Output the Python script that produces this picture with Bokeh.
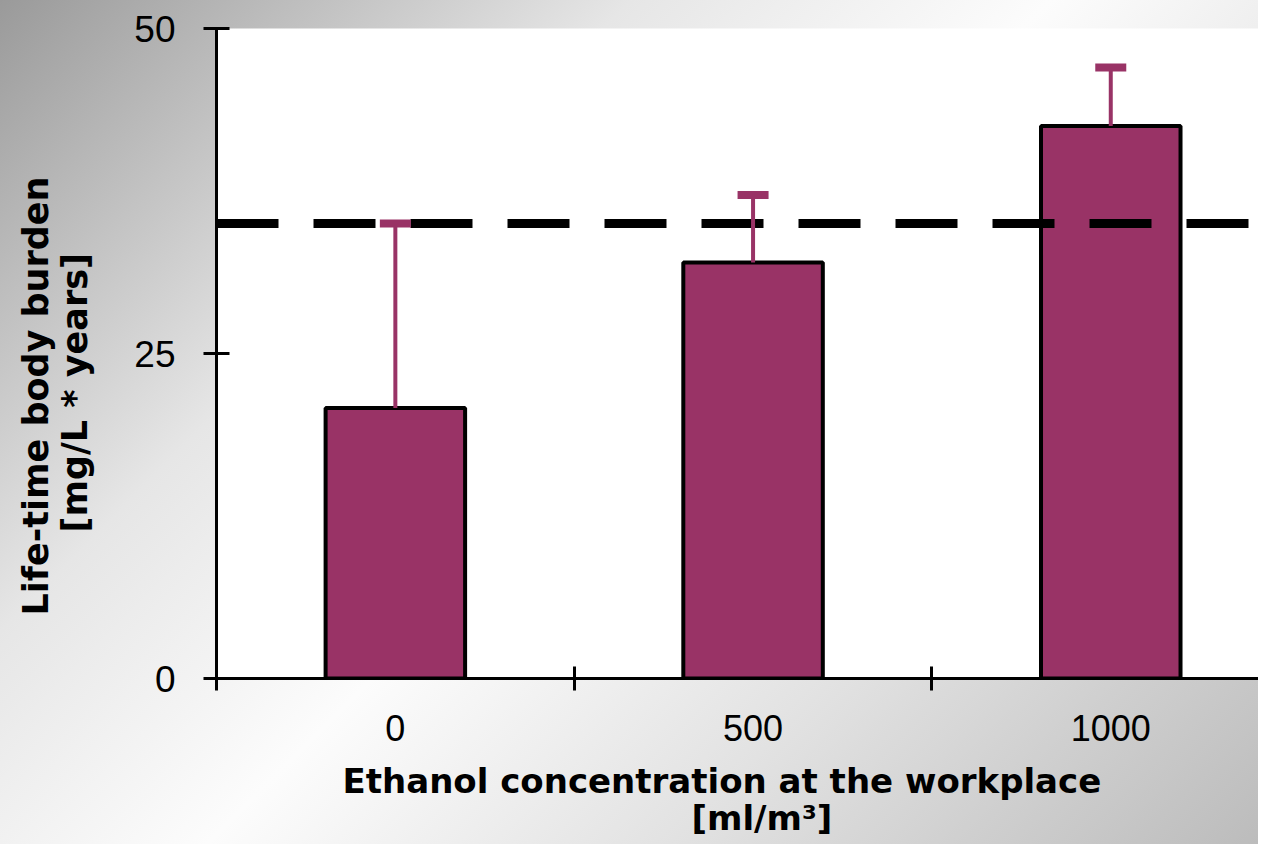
from bokeh.plotting import figure
from bokeh.models import Range1d, FixedTicker, Span, Whisker, TeeHead, ColumnDataSource, Title
from bokeh.embed import file_html
from bokeh.resources import INLINE

# ---- data ----
categories = ["0", "500", "1000"]          # ethanol concentration [ml/m3]
means = [20.8, 32.0, 42.5]                 # life-time body burden
errors = [14.2, 5.2, 4.5]                  # upper error
limit_value = 35.0                         # dashed reference line
y_ticks = [0, 25, 50]
x_title = ["Ethanol concentration at the workplace", "[ml/m\u00b3]"]
y_title = ["Life-time body burden", "[mg/L * years]"]

xs = list(range(len(categories)))
upper = [m + e for m, e in zip(means, errors)]
src = ColumnDataSource(dict(x=xs, top=means, upper=upper))

PLUM = "#993366"
W, H = 1258, 844
LEFT, TOP, BOTTOM = 216, 28, 166

p = figure(width=W, height=H, output_backend="svg", toolbar_location=None,
           x_range=Range1d(-0.5, 2.413), y_range=Range1d(0, 50),
           min_border_left=LEFT, min_border_right=0, min_border_top=TOP,
           min_border_bottom=BOTTOM)

p.border_fill_alpha = 0
p.background_fill_color = "white"
p.outline_line_color = None
p.styles = {"background": "linear-gradient(135deg, #9a9a9a 0%, #e6e6e6 30%, #fcfcfc 50%, #e2e2e2 72%, #bcbcbc 100%)"}
p.xgrid.visible = False
p.ygrid.visible = False

# bars
p.vbar(x="x", top="top", bottom=0, width=0.39, source=src,
       fill_color=PLUM, line_color="black", line_width=4)

# reference line
p.add_layout(Span(location=limit_value, dimension="width", line_color="black",
                  line_width=9, line_dash="62 35"))

# error bars (upper only)
wh = Whisker(source=src, base="x", lower="top", upper="upper", dimension="height",
             line_color=PLUM, line_width=4, lower_head=None,
             upper_head=TeeHead(size=31, line_width=8, line_color=PLUM),
             level="overlay")
p.add_layout(wh)

label_font = "Liberation Sans"
title_font = "DejaVu Sans"

# x axis
xa = p.xaxis[0]
xa.ticker = FixedTicker(ticks=xs, minor_ticks=[-0.5, 0.5, 1.5, 2.5])
xa.major_label_overrides = {i: c for i, c in enumerate(categories)}
xa.major_tick_in = 0
xa.major_tick_out = 0
xa.minor_tick_in = 12
xa.minor_tick_out = 12
xa.minor_tick_line_width = 3
xa.minor_tick_line_color = "black"
xa.axis_line_width = 3
xa.axis_line_color = "black"
xa.major_label_text_font = label_font
xa.major_label_text_font_size = "36px"
xa.major_label_text_color = "black"
xa.major_label_standoff = 24

# y axis
ya = p.yaxis[0]
ya.ticker = FixedTicker(ticks=y_ticks, minor_ticks=[])
ya.major_tick_in = 13
ya.major_tick_out = 13
ya.major_tick_line_width = 3
ya.axis_line_width = 3
ya.axis_line_color = "black"
ya.major_label_text_font = label_font
ya.major_label_text_font_size = "37px"
ya.major_label_text_color = "black"
ya.major_label_standoff = 28

def side_title(text, offset, standoff, size="34px"):
    return Title(text=text, align="left", offset=offset, standoff=standoff,
                 text_font=title_font, text_font_style="bold",
                 text_font_size=size, text_color="black")

# axis titles (each line placed as in the original)
p.add_layout(side_title(x_title[0], 126, 30), "below")
p.add_layout(side_title(x_title[1], 475, -40), "below")
p.add_layout(side_title(y_title[1], 146, 74, "35px"), "left")
p.add_layout(side_title(y_title[0], 63, -80, "35px"), "left")

open("out.html", "w").write(file_html(p, INLINE))
